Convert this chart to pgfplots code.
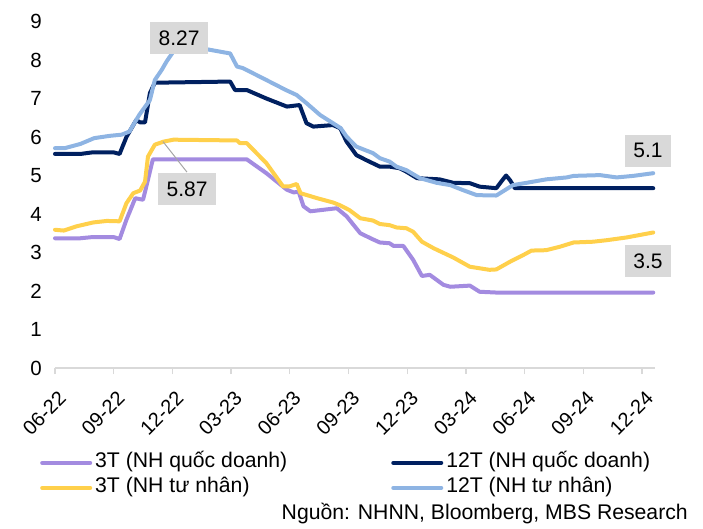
\documentclass[border=0pt]{standalone}
\usepackage{pgfplots}
\pgfplotsset{compat=1.18}
\usepackage{fontspec}
\setmainfont{Liberation Sans}
\definecolor{cpurple}{HTML}{A38BE0}
\definecolor{cnavy}{HTML}{002060}
\definecolor{cyellow}{HTML}{FFD04B}
\definecolor{cblue}{HTML}{8EB4E3}
\definecolor{cbox}{HTML}{D9D9D9}
\definecolor{caxis}{HTML}{D9D9D9}
\begin{document}
\fontsize{21}{25}\selectfont
\begin{tikzpicture}
\begin{axis}[
  scale only axis,
  width=600pt, height=346.5pt,
  xmin=0, xmax=30.66, ymin=0, ymax=9,
  axis x line*=bottom, axis y line*=left,
  x axis line style={draw=caxis, line width=1.3pt, -},
  y axis line style={draw=none},
  xtick={0,3,...,30},
  xticklabels={},
  ytick={0,1,...,9},
  yticklabel style={font=\fontsize{20.5}{24}\selectfont},
  tick align=outside,
  x tick style={draw=caxis, line width=1.3pt},
  major tick length=6pt,
  y tick style={draw=none},
  /pgf/number format/assume math mode=true,
  clip=false,
  every axis plot/.append style={line width=4pt, line join=round, line cap=round},
  legend columns=2,
  legend cell align=left,
  legend image code/.code={\draw[#1, line cap=round] (0pt,0pt) -- (48pt,0pt);},
  legend style={
    at={(axis description cs:-0.025,-0.237)}, anchor=north west,
    draw=none, fill=none, inner sep=0pt,
    nodes={inner xsep=3pt, inner ysep=2.5pt, text height=15pt, text depth=5pt, font=\fontsize{21.2}{25}\selectfont},
    /tikz/every even column/.append style={column sep=101pt},
  },
]
\addplot[cpurple] coordinates {
(0,3.37) (1.3,3.37) (1.9,3.40) (3.0,3.40) (3.3,3.35) (3.65,3.85) (4.1,4.41) (4.5,4.37) (4.75,4.89) (5.0,5.42) (9.8,5.42) (10.8,5.06) (11.85,4.63) (12.2,4.56) (12.45,4.58) (12.7,4.20) (13.05,4.07) (14.4,4.15) (14.9,3.94) (15.6,3.50) (16.25,3.34) (16.6,3.26) (17.1,3.24) (17.3,3.17) (17.8,3.17) (18.3,2.81) (18.75,2.39) (19.15,2.42) (19.85,2.16) (20.2,2.11) (21.2,2.14) (21.7,1.98) (22.55,1.96) (30.57,1.96)
};
\addlegendentry{3T (NH quốc doanh)}
\addplot[cnavy] coordinates {
(0,5.56) (1.3,5.56) (1.9,5.60) (3.0,5.60) (3.3,5.56) (3.65,6.0) (4.15,6.44) (4.35,6.38) (4.6,6.38) (4.85,7.14) (5.1,7.41) (8.95,7.44) (9.2,7.22) (9.8,7.22) (10.8,7.0) (11.85,6.79) (12.5,6.83) (12.85,6.36) (13.2,6.27) (14.2,6.31) (14.57,6.23) (14.9,5.88) (15.4,5.53) (15.9,5.40) (16.6,5.23) (17.1,5.23) (17.6,5.19) (17.95,5.10) (18.5,4.93) (19.65,4.90) (20.35,4.81) (21.2,4.80) (21.7,4.71) (22.55,4.67) (22.8,4.84) (23.05,5.0) (23.25,4.88) (23.5,4.67) (30.57,4.67)
};
\addlegendentry{12T (NH quốc doanh)}
\addplot[cyellow] coordinates {
(0,3.59) (0.45,3.57) (1.1,3.68) (1.95,3.78) (2.65,3.82) (3.3,3.81) (3.65,4.28) (4.0,4.54) (4.35,4.61) (4.6,4.84) (4.75,5.49) (5.1,5.80) (5.55,5.88) (6.05,5.93) (9.3,5.91) (9.45,5.84) (9.8,5.84) (10.8,5.32) (11.65,4.72) (12.0,4.72) (12.35,4.78) (12.55,4.54) (13.4,4.41) (14.2,4.30) (14.55,4.23) (15.05,4.10) (15.6,3.89) (16.25,3.83) (16.6,3.74) (17.1,3.71) (17.45,3.65) (17.95,3.63) (18.3,3.54) (18.75,3.28) (19.35,3.11) (20.35,2.87) (21.2,2.63) (22.2,2.55) (22.55,2.56) (23.25,2.76) (23.95,2.94) (24.35,3.05) (25.1,3.06) (25.8,3.15) (26.5,3.26) (27.5,3.28) (28.2,3.32) (29.2,3.39) (30.57,3.52)
};
\addlegendentry{3T (NH tư nhân)}
\addplot[cblue] coordinates {
(0,5.71) (0.5,5.71) (1.3,5.82) (2,5.97) (2.8,6.03) (3.4,6.06) (3.8,6.14) (4.3,6.57) (4.85,6.96) (5.1,7.48) (5.45,7.74) (5.7,7.96) (6.05,8.22) (6.4,8.27) (7.75,8.28) (8.4,8.22) (8.95,8.17) (9.3,7.83) (9.6,7.79) (10.8,7.48) (11.8,7.22) (12.35,7.09) (12.85,6.88) (13.55,6.57) (14.2,6.36) (14.6,6.23) (14.9,6.01) (15.4,5.75) (16.25,5.58) (16.6,5.45) (17.1,5.36) (17.45,5.23) (17.95,5.14) (18.65,4.93) (19.5,4.81) (20.2,4.75) (20.85,4.62) (21.55,4.49) (22.55,4.48) (23.4,4.75) (24.1,4.81) (25.1,4.90) (26.15,4.95) (26.5,4.99) (27.85,5.01) (28.7,4.95) (29.55,4.99) (30.57,5.06)
};
\addlegendentry{12T (NH tư nhân)}
\draw[color=gray!70, line width=1pt] (axis cs:5.52,5.88) -- (axis cs:6.74,5.09);
\node[fill=cbox, inner xsep=8.5pt, inner ysep=8.5pt] at (axis cs:6.34,8.57) {8.27};
\node[fill=cbox, inner xsep=8.5pt, inner ysep=8.5pt] at (axis cs:6.75,4.65) {5.87};
\node[fill=cbox, inner xsep=8.5pt, inner ysep=8.5pt] at (axis cs:30.3,5.64) {5.1};
\node[fill=cbox, inner xsep=8.5pt, inner ysep=8.5pt] at (axis cs:30.3,2.78) {3.5};
\end{axis}
\foreach \m/\l in {0/06-22,3/09-22,6/12-22,9/03-23,12/06-23,15/09-23,18/12-23,21/03-24,24/06-24,27/09-24,30/12-24}{
  \node[rotate=45, anchor=east, inner sep=0pt, font=\fontsize{20}{24}\selectfont] at ({\m*19.5695pt+7.5pt},-27pt) {\l};
}
\node[anchor=east, inner sep=0pt, font=\fontsize{21.2}{25}\selectfont] at (633pt,-146pt) {Nguồn: NHNN, Bloomberg, MBS Research};
\pgfresetboundingbox
\path[use as bounding box] (-55pt,-161pt) rectangle (648pt,368pt);
\end{tikzpicture}
\end{document}
